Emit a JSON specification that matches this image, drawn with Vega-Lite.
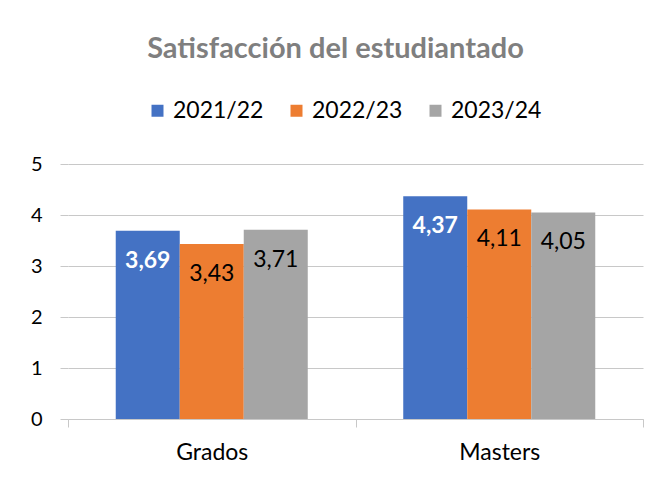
{
  "$schema": "https://vega.github.io/schema/vega-lite/v6.json",
  "width": 575,
  "height": 255,
  "autosize": {"type": "none"},
  "padding": {"left": 68, "top": 164, "right": 16, "bottom": 63},
  "background": "white",
  "config": {
    "view": {"stroke": null},
    "font": "Lato",
    "locale": {"number": {"decimal": ",", "thousands": ".", "grouping": [3], "currency": ["", " €"]}}
  },
  "title": {
    "text": "Satisfacción del estudiantado",
    "fontSize": 29,
    "font": "Lato",
    "fontWeight": "bold",
    "color": "#7F7F7F",
    "anchor": "middle",
    "dx": -20,
    "offset": 35
  },
  "data": {
    "values": [
      {"nivel": "Grados", "curso": "2021/22", "valor": 3.69},
      {"nivel": "Grados", "curso": "2022/23", "valor": 3.43},
      {"nivel": "Grados", "curso": "2023/24", "valor": 3.71},
      {"nivel": "Masters", "curso": "2021/22", "valor": 4.37},
      {"nivel": "Masters", "curso": "2022/23", "valor": 4.11},
      {"nivel": "Masters", "curso": "2023/24", "valor": 4.05}
    ]
  },
  "encoding": {
    "x": {
      "field": "nivel",
      "type": "nominal",
      "sort": ["Grados", "Masters"],
      "scale": {"paddingInner": 0, "paddingOuter": 0},
      "axis": {
        "title": null,
        "labelAngle": 0,
        "tickBand": "extent",
        "tickSize": 8,
        "tickColor": "#C8C8C8",
        "domainColor": "#C8C8C8",
        "labelFontSize": 23,
        "labelColor": "#000000",
        "labelPadding": 14,
        "grid": false
      }
    },
    "xOffset": {
      "field": "curso",
      "type": "nominal",
      "sort": ["2021/22", "2022/23", "2023/24"],
      "scale": {"paddingInner": 0, "paddingOuter": 0.746}
    },
    "y": {
      "field": "valor",
      "type": "quantitative",
      "scale": {"domain": [0, 5]},
      "axis": {
        "title": null,
        "values": [0, 1, 2, 3, 4, 5],
        "format": "d",
        "domain": false,
        "tickSize": 8,
        "tickColor": "#C8C8C8",
        "gridColor": "#C8C8C8",
        "labelFontSize": 20,
        "labelColor": "#000000",
        "labelPadding": 18
      }
    }
  },
  "layer": [
    {
      "mark": {"type": "bar"},
      "encoding": {
        "color": {
          "field": "curso",
          "type": "nominal",
          "scale": {"domain": ["2021/22", "2022/23", "2023/24"], "range": ["#4472C4", "#ED7D31", "#A5A5A5"]},
          "legend": {
            "orient": "none",
            "legendX": 78,
            "legendY": -65,
            "direction": "horizontal",
            "title": null,
            "symbolType": "square",
            "symbolSize": 144,
            "symbolStrokeWidth": 0,
            "labelFontSize": 23,
            "labelColor": "#000000",
            "columnPadding": 21,
            "labelOffset": 4,
            "padding": 0
          }
        }
      }
    },
    {
      "transform": [{"filter": "datum.curso === '2021/22'"}],
      "mark": {"type": "text", "baseline": "middle", "dy": 30, "fontSize": 23, "fontWeight": "bold", "color": "white"},
      "encoding": {"text": {"field": "valor", "type": "quantitative", "format": ".2f"}}
    },
    {
      "transform": [{"filter": "datum.curso !== '2021/22'"}],
      "mark": {"type": "text", "baseline": "middle", "dy": 30, "fontSize": 23, "color": "black"},
      "encoding": {"text": {"field": "valor", "type": "quantitative", "format": ".2f"}}
    }
  ]
}
